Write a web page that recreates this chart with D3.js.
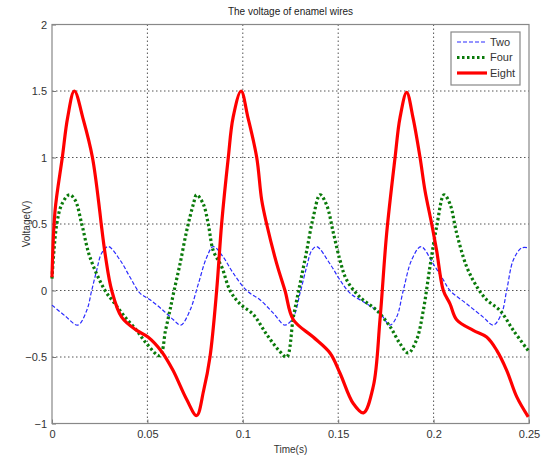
<!DOCTYPE html>
<html>
<head>
<meta charset="utf-8">
<script src="https://cdn.jsdelivr.net/npm/d3@7"></script>
<style>
  body { margin: 0; background: #fff; }
  text { font-family: "Liberation Sans", Arial, sans-serif; }
</style>
</head>
<body>
<div id="chart"></div>
<script>
// x ticks / y ticks
var xTicks = [0, 0.05, 0.1, 0.15, 0.2, 0.25];
var yTicks = [-1, -0.5, 0, 0.5, 1, 1.5, 2];
var seriesNames = ["Two", "Four", "Eight"];

// Two (blue dashed)
var twoTime = [0, 0.0068, 0.0135, 0.0182, 0.0208, 0.0234, 0.026, 0.0295, 0.0356, 0.0409, 0.0461, 0.0514, 0.0583, 0.0636, 0.0675,
  0.0723, 0.0767, 0.0811, 0.0845, 0.0898, 0.095, 0.102, 0.109, 0.116, 0.1221, 0.1265, 0.13, 0.1335, 0.1361, 0.1387,
  0.1457, 0.1509, 0.1562, 0.1649, 0.1719, 0.1771, 0.1806, 0.1841, 0.1885, 0.1934, 0.1998, 0.2051, 0.2086, 0.2173,
  0.226, 0.2313, 0.2357, 0.2383, 0.2418, 0.2462, 0.25];
var twoVolt = [-0.11, -0.19, -0.26, -0.15, 0, 0.15, 0.28, 0.33, 0.23, 0.1, -0.02, -0.07, -0.15, -0.22, -0.26,
  -0.15, 0.05, 0.25, 0.33, 0.25, 0.13, 0, -0.07, -0.17, -0.26, -0.2, -0.02, 0.18, 0.3, 0.33,
  0.2, 0.08, -0.02, -0.1, -0.17, -0.26, -0.2, 0, 0.23, 0.33, 0.2, 0.08, 0, -0.1,
  -0.2, -0.26, -0.17, 0, 0.23, 0.32, 0.32];

// Four (green dotted)
var fourTime = [0, 0.0025, 0.0052, 0.0091, 0.0121, 0.0156, 0.0199, 0.0278, 0.033, 0.0383, 0.0444, 0.0496, 0.0565,
  0.0595, 0.0618, 0.0640, 0.0671, 0.0706, 0.0741, 0.0758, 0.0793, 0.0819, 0.0845, 0.0889, 0.0933, 0.0985, 0.1055,
  0.1125, 0.1195, 0.123, 0.1265, 0.13, 0.1335, 0.1369, 0.1405, 0.144, 0.1475, 0.1509, 0.1544, 0.1614, 0.1702,
  0.1771, 0.1824, 0.1867, 0.1911, 0.1946, 0.1981, 0.2016, 0.2055, 0.2086, 0.2121, 0.2173, 0.2226, 0.2278, 0.2348,
  0.2418, 0.25];
var fourVolt = [0.09, 0.5, 0.65, 0.72, 0.68, 0.5, 0.25, 0, -0.1, -0.2, -0.3, -0.4, -0.49,
  -0.3, -0.15, 0, 0.2, 0.45, 0.65, 0.72, 0.65, 0.5, 0.3, 0.18, 0, -0.1, -0.18,
  -0.33, -0.46, -0.5, -0.2, 0.05, 0.3, 0.55, 0.72, 0.64, 0.43, 0.23, 0.08, -0.05, -0.15,
  -0.27, -0.4, -0.47, -0.37, -0.15, 0.18, 0.48, 0.72, 0.65, 0.43, 0.18, 0.03, -0.07, -0.15,
  -0.3, -0.46];

// Eight (red solid)
var eightTime = [0, 0.0016, 0.0054, 0.0082, 0.0117, 0.0165, 0.0212, 0.025, 0.0258, 0.0281, 0.0313, 0.0365, 0.0444,
  0.0503, 0.0575, 0.0634, 0.0706, 0.0758, 0.0795, 0.0828, 0.0863, 0.0889, 0.0924, 0.0949, 0.0991, 0.1027, 0.1073,
  0.1099, 0.1125, 0.1178, 0.1221, 0.1265, 0.1369, 0.1457, 0.1509, 0.1579, 0.1632, 0.1684, 0.1719, 0.1754, 0.1798,
  0.1824, 0.1859, 0.1892, 0.1929, 0.1955, 0.199, 0.2016, 0.2051, 0.2086, 0.2121, 0.2208, 0.2278, 0.2331, 0.2383,
  0.2436, 0.2496];
var eightVolt = [0.1, 0.6, 1.0, 1.3, 1.5, 1.28, 1.0, 0.6, 0.5, 0.25, 0, -0.2, -0.3,
  -0.35, -0.46, -0.6, -0.82, -0.94, -0.75, -0.5, 0, 0.5, 1.0, 1.3, 1.5, 1.3, 1.0,
  0.68, 0.5, 0.2, 0, -0.22, -0.35, -0.47, -0.62, -0.85, -0.92, -0.72, -0.22, 0.43, 1.0,
  1.3, 1.49, 1.3, 1.0, 0.75, 0.5, 0.3, 0, -0.1, -0.22, -0.3, -0.35, -0.45, -0.6,
  -0.8, -0.95];

var margin = {top: 24.5, right: 19, bottom: 31.5, left: 52},
    width = 548 - margin.left - margin.right,
    height = 455 - margin.top - margin.bottom;

var svg = d3.select("#chart").append("svg")
    .attr("width", 548)
    .attr("height", 455)
  .append("g")
    .attr("transform", "translate(" + margin.left + "," + margin.top + ")");

var x = d3.scaleLinear().domain([0, 0.25]).range([0, width]);
var y = d3.scaleLinear().domain([-1, 2]).range([height, 0]);

// grid lines
svg.selectAll(".gridx")
    .data(xTicks.slice(1, -1))
  .enter().append("line")
    .attr("x1", function(d) { return x(d); })
    .attr("x2", function(d) { return x(d); })
    .attr("y1", 0)
    .attr("y2", height)
    .style("stroke", "#555")
    .style("stroke-dasharray", "1.5,2.5")
    .style("stroke-width", 1);

svg.selectAll(".gridy")
    .data(yTicks.slice(1, -1))
  .enter().append("line")
    .attr("y1", function(d) { return y(d); })
    .attr("y2", function(d) { return y(d); })
    .attr("x1", 0)
    .attr("x2", width)
    .style("stroke", "#555")
    .style("stroke-dasharray", "1.5,2.5")
    .style("stroke-width", 1);

// axes
var xAxis = svg.append("g")
    .attr("transform", "translate(0," + height + ")")
    .call(d3.axisBottom(x).tickValues(xTicks).tickSize(-4).tickPadding(7)
      .tickFormat(function(d) { return d3.format("")(d); }));

var yAxis = svg.append("g")
    .call(d3.axisLeft(y).tickValues(yTicks).tickSize(-4).tickPadding(5)
      .tickFormat(function(d) { return d3.format("")(d); }));

[xAxis, yAxis].forEach(function(a) {
  a.select(".domain").remove();
  a.selectAll("line").style("stroke", "#777");
  a.selectAll("text").style("font-size", "11px").style("fill", "#333")
    .style("font-family", "'Liberation Sans', Arial, sans-serif");
});

// box
svg.append("rect")
    .attr("x", 0)
    .attr("y", 0)
    .attr("width", width)
    .attr("height", height)
    .style("fill", "none")
    .style("stroke", "#888")
    .style("stroke-width", 1.2);

// series
var line = d3.line()
    .x(function(d) { return x(d[0]); })
    .y(function(d) { return y(d[1]); })
    .curve(d3.curveCatmullRom.alpha(0.5));

function pairs(t, v) {
  return t.map(function(d, i) { return [d, v[i]]; });
}

var styles = [
  {color: "#2b2bff", width: 1.2, dash: "4,2"},
  {color: "#0a7a0a", width: 3.2, dash: "2.5,2.5"},
  {color: "#ff0000", width: 3.2, dash: null}
];
var data = [pairs(twoTime, twoVolt), pairs(fourTime, fourVolt), pairs(eightTime, eightVolt)];

svg.selectAll(".series")
    .data(data)
  .enter().append("path")
    .attr("class", "series")
    .attr("d", line)
    .style("fill", "none")
    .style("stroke", function(d, i) { return styles[i].color; })
    .style("stroke-width", function(d, i) { return styles[i].width; })
    .style("stroke-dasharray", function(d, i) { return styles[i].dash; })
    .style("stroke-linejoin", "round");

// legend
var legend = svg.append("g")
    .attr("transform", "translate(" + (451 - margin.left) + "," + (32 - margin.top) + ")");

legend.append("rect")
    .attr("width", 69)
    .attr("height", 53)
    .style("fill", "#fff")
    .style("stroke", "#888")
    .style("stroke-width", 1.2);

seriesNames.forEach(function(name, i) {
  var ly = 10 + i * 15.5;
  legend.append("line")
      .attr("x1", 6)
      .attr("x2", 36)
      .attr("y1", ly)
      .attr("y2", ly)
      .style("stroke", styles[i].color)
      .style("stroke-width", styles[i].width)
      .style("stroke-dasharray", styles[i].dash);
  legend.append("text")
      .attr("x", 39)
      .attr("y", ly)
      .attr("dy", "0.35em")
      .style("font-size", "11px")
      .style("fill", "#333")
      .text(name);
});

// title and labels
svg.append("text")
    .attr("x", width / 2)
    .attr("y", -10)
    .style("text-anchor", "middle")
    .style("font-size", "10px")
    .style("fill", "#222")
    .text("The voltage of enamel wires");

svg.append("text")
    .attr("x", width / 2)
    .attr("y", height + 29)
    .style("text-anchor", "middle")
    .style("font-size", "10px")
    .style("fill", "#333")
    .text("Time(s)");

svg.append("text")
    .attr("transform", "rotate(-90)")
    .attr("x", 0 - (height / 2))
    .attr("y", -22)
    .style("text-anchor", "middle")
    .style("font-size", "10px")
    .style("fill", "#333")
    .text("Voltage(V)");
</script>
</body>
</html>
